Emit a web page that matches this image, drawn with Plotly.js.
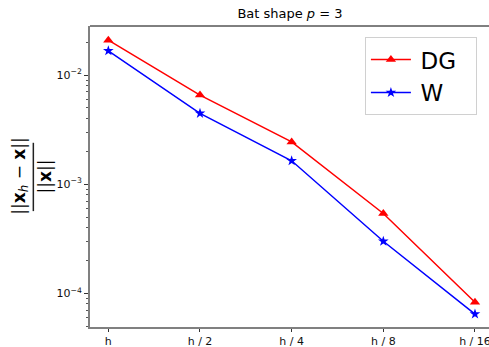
<!DOCTYPE html>
<html>
<head>
<meta charset="utf-8">
<script src="https://cdn.plot.ly/plotly-3.0.1.min.js"></script>
<style>html,body{margin:0;padding:0;background:#fff;}#chart{width:489px;height:347px;}</style>
</head>
<body>
<div id="chart"></div>
<script>
const categories = ["h", "h / 2", "h / 4", "h / 8", "h / 16"];
const dgValues = [0.0209, 0.00656, 0.00244, 0.000539, 0.0000827];
const wValues = [0.0167, 0.00446, 0.00164, 0.000300, 0.0000645];
const seriesNames = ["DG", "W"];

const xIdx = categories.map((c, i) => i);
const pad = s => '\u2009' + s + '\u00a0\u00a0';
const traces = [
  {x: xIdx, y: dgValues, name: pad(seriesNames[0]), mode: 'lines+markers', cliponaxis: false,
   line: {color: 'red', width: 1.5}, marker: {symbol: 'triangle-up', size: 9, color: 'red'}},
  {x: xIdx, y: wValues, name: pad(seriesNames[1]), mode: 'lines+markers', cliponaxis: false,
   line: {color: 'blue', width: 1.5}, marker: {symbol: 'star', size: 8, color: 'blue'}}
];
const font = {family: 'DejaVu Sans', size: 11, color: '#111'};
const layout = {
  width: 489, height: 347,
  margin: {l: 90, r: 0, t: 26, b: 20, pad: 0},
  paper_bgcolor: '#fff', plot_bgcolor: '#fff',
  font: font,
  showlegend: true,
  title: {text: 'Bat shape <i>p</i> = 3', x: 0.593, xanchor: 'center', y: 0.962, yanchor: 'middle',
          font: {family: 'DejaVu Sans', size: 13, color: '#000'}},
  xaxis: {range: [-0.2, 4.153], tickvals: xIdx, ticktext: categories, showgrid: false, zeroline: false,
          showline: true, linecolor: '#808080', linewidth: 2, ticks: 'outside', ticklen: 3, tickcolor: '#333',
          tickfont: font, ticklabeloverflow: 'allow'},
  yaxis: {type: 'log', range: [-4.309, -1.55], showgrid: false, zeroline: false,
          showline: true, linecolor: '#808080', linewidth: 2, ticks: 'outside', ticklen: 4, tickcolor: '#333',
          tickvals: [1e-4, 1e-3, 1e-2], ticktext: ['10<sup>−4</sup>', '10<sup>−3</sup>', '10<sup>−2</sup>'],
          tickfont: font,
          minor: {ticks: 'outside', ticklen: 2, tickcolor: '#555', dtick: 'D1', showgrid: false}},
  legend: {x: 0.689, xanchor: 'left', y: 0.963, yanchor: 'top', bgcolor: '#fff',
           bordercolor: '#d0d0d0', borderwidth: 1, font: {family: 'DejaVu Sans', size: 23, color: '#000'},
           itemwidth: 40, tracegroupgap: 6},
  shapes: [
    {type: 'line', xref: 'paper', yref: 'paper', x0: 0, x1: 1, y0: 1, y1: 1, line: {color: '#000', width: 1}},
    {type: 'line', xref: 'paper', yref: 'paper', x0: -0.142, x1: -0.142, y0: 0.385, y1: 0.612, line: {color: '#222', width: 1.5}}
  ],
  annotations: [
    {text: '||<b>x</b><sub><i>h</i></sub> − <b>x</b>||', xref: 'paper', yref: 'paper', x: -0.175, y: 0.5, textangle: -90,
     showarrow: false, xanchor: 'center', yanchor: 'middle', font: {family: 'DejaVu Sans', size: 17, color: '#000'}},
    {text: '||<b>x</b>||', xref: 'paper', yref: 'paper', x: -0.113, y: 0.5, textangle: -90,
     showarrow: false, xanchor: 'center', yanchor: 'middle', font: {family: 'DejaVu Sans', size: 17, color: '#000'}}
  ]
};
Plotly.newPlot('chart', traces, layout, {displayModeBar: false, staticPlot: true});
</script>
</body>
</html>
